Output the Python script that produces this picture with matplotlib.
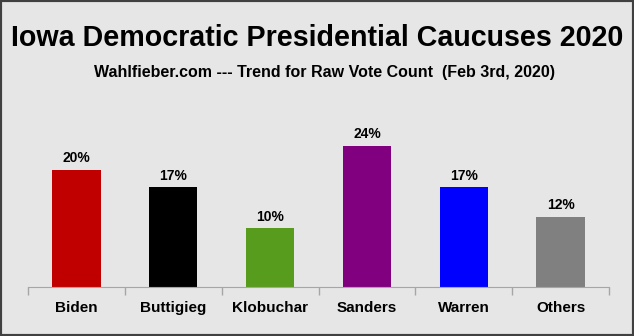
import numpy as np
import matplotlib
matplotlib.use('Agg')
from matplotlib import pyplot as plt
from matplotlib.patches import Rectangle

candidates = ['Biden', 'Buttigieg', 'Klobuchar', 'Sanders', 'Warren', 'Others']
shares = [20, 17, 10, 24, 17, 12]
labels = ['20%', '17%', '10%', '24%', '17%', '12%']
bar_colors = ['#C00000', '#000000', '#589C1E', '#800080', '#0000FF', '#808080']

plt.rcParams['font.family'] = ['Liberation Sans', 'DejaVu Sans']
bg = '#E6E6E6'

fig = plt.figure(figsize=(6.34, 3.36), dpi=100, facecolor=bg)
ax = fig.add_axes([28/634, 49/336, 581/634, 212/336])
ax.set_facecolor(bg)

x = np.arange(len(candidates))
ax.bar(x, shares, width=0.5, color=bar_colors)
for xi, v, lab in zip(x, shares, labels):
    ax.annotate(lab, (xi, v), xytext=(0, 3.5), textcoords='offset points',
                ha='center', va='bottom', fontsize=10, fontweight='bold')

ax.set_xlim(-0.5, len(candidates) - 0.5)
ax.set_ylim(0, 212/5.86)
ax.set_yticks([])
ax.set_xticks(np.arange(-0.5, len(candidates)), minor=False)
ax.set_xticklabels([])
ax.set_xticks(x, minor=True)
ax.set_xticklabels(candidates, minor=True, fontsize=11, fontweight='bold')
ax.tick_params(axis='x', which='major', length=6, color='#A6A6A6', width=1)
ax.tick_params(axis='x', which='minor', length=0, pad=10)
for s in ['top', 'right', 'left']:
    ax.spines[s].set_visible(False)
ax.spines['bottom'].set_color('#A6A6A6')

fig.text(0.5, 1 - 38/336, 'Iowa Democratic Presidential Caucuses 2020',
         ha='center', va='center', fontsize=20.6, fontweight='bold')
fig.text(325/634, 1 - 72/336, 'Wahlfieber.com --- Trend for Raw Vote Count  (Feb 3rd, 2020)',
         ha='center', va='center', fontsize=11.5, fontweight='bold')

fig.patches.append(Rectangle((0, 0), 1, 1, transform=fig.transFigure,
                             fill=False, edgecolor='#404040', linewidth=3))

fig.savefig('out.png', dpi=100, facecolor=bg)
